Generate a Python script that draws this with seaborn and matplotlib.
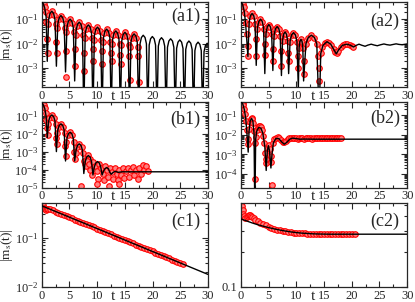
import matplotlib
matplotlib.use("Agg")
from matplotlib import pyplot as plt
from matplotlib.ticker import MultipleLocator, LogLocator, NullFormatter, FormatStrFormatter
import seaborn as sns

# ---- data: t values and |m_s(t)| values ----

# (a1) black curve (theory) and red circles (numerics)
a1_line_t = [0, 0.3, 0.55, 0.8, 1.0,
             1.25, 1.5, 1.82, 2.15, 2.4, 2.65,
             2.9, 3.15, 3.47, 3.8, 4.05, 4.3,
             4.55, 4.8, 5.12, 5.45, 5.7, 5.95,
             6.2, 6.45, 6.77, 7.1, 7.35, 7.6,
             7.85, 8.1, 8.42, 8.75, 9.0, 9.25,
             9.5, 9.75, 10.07, 10.4, 10.65, 10.9,
             11.15, 11.4, 11.72, 12.05, 12.3, 12.55,
             12.8, 13.05, 13.37, 13.7, 13.95, 14.2,
             14.45, 14.7, 15.02, 15.35, 15.6, 15.85,
             16.1, 16.35, 16.67, 17.0, 17.25, 17.5,
             17.75, 18.0, 18.32, 18.65, 18.9, 19.15,
             19.4, 19.65, 19.97, 20.3, 20.55, 20.8,
             21.05, 21.3, 21.62, 21.95, 22.2, 22.45,
             22.7, 22.95, 23.27, 23.6, 23.85, 24.1,
             24.35, 24.6, 24.92, 25.25, 25.5, 25.75,
             26.0, 26.25, 26.57, 26.9, 27.15, 27.4,
             27.65, 27.9, 28.22, 28.55, 28.8, 29.05,
             29.3, 29.55, 29.87, 30.2]
a1_line_m = [0.5, 0.42, 0.28, 0.12, 1.9e-3,
             0.095, 0.17, 0.21, 0.17, 0.095, 1.2e-3,
             0.063, 0.113, 0.14, 0.113, 0.063, 7e-4,
             0.045, 0.081, 0.10, 0.081, 0.045, 3e-4,
             0.034, 0.061, 0.075, 0.061, 0.034, 1e-5,
             0.026, 0.047, 0.058, 0.047, 0.026, 1e-5,
             0.021, 0.038, 0.047, 0.038, 0.021, 1e-5,
             0.0175, 0.0316, 0.039, 0.0316, 0.0175, 1e-5,
             0.0149, 0.0267, 0.033, 0.0267, 0.0149, 1e-5,
             0.013, 0.0235, 0.029, 0.0235, 0.013, 1e-5,
             0.0113, 0.0203, 0.025, 0.0203, 0.0113, 1e-5,
             0.0099, 0.0178, 0.022, 0.0178, 0.0099, 1e-5,
             0.0088, 0.0158, 0.0195, 0.0158, 0.0088, 1e-5,
             0.0079, 0.0142, 0.0175, 0.0142, 0.0079, 1e-5,
             0.0071, 0.0128, 0.0158, 0.0128, 0.0071, 1e-5,
             0.0064, 0.0115, 0.0142, 0.0115, 0.0064, 1e-5,
             0.0058, 0.0104, 0.0128, 0.0104, 0.0058, 1e-5,
             0.0052, 0.0093, 0.0115, 0.0093, 0.0052, 1e-5,
             0.0047, 0.0084, 0.0104, 0.0084]
a1_red_t = [0, 0.12, 0.25, 0.4, 0.55, 0.7, 0.85, 1.0, 1.05,
            1.15, 1.4, 1.82, 2.25, 2.5, 2.6, 2.7,
            2.8, 3.05, 3.47, 3.9, 4.15, 4.3, 4.35,
            4.45, 4.7, 5.12, 5.55, 5.8, 5.95, 6.0,
            6.1, 6.35, 6.77, 7.2, 7.45, 7.6, 7.65,
            7.75, 8.0, 8.42, 8.85, 9.1, 9.25, 9.3,
            9.4, 9.65, 10.07, 10.5, 10.75, 10.9, 10.95,
            11.05, 11.3, 11.72, 12.15, 12.4, 12.55, 12.6,
            12.7, 12.95, 13.37, 13.8, 14.05, 14.2, 14.25,
            14.35, 14.6, 15.02, 15.45, 15.7, 15.8, 15.85,
            16.0, 16.25, 16.67, 17.1, 17.35, 17.45, 17.5]
a1_red_m = [0.5, 0.49, 0.46, 0.4, 0.3, 0.19, 0.08, 0.015, 4e-3,
            0.063, 0.15, 0.21, 0.15, 0.063, 0.012, 4e-3,
            0.042, 0.098, 0.14, 0.098, 0.042, 5e-3, 4.4e-4,
            0.03, 0.07, 0.10, 0.07, 0.03, 6e-3, 1.2e-3,
            0.0225, 0.0525, 0.075, 0.0525, 0.0225, 4e-3, 7.5e-4,
            0.0174, 0.0406, 0.058, 0.0406, 0.0174, 6e-3, 2e-3,
            0.0141, 0.0329, 0.047, 0.0329, 0.0141, 5e-3, 1.5e-3,
            0.0117, 0.0273, 0.039, 0.0273, 0.0117, 4e-3, 2e-3,
            0.0099, 0.0231, 0.033, 0.0231, 0.0099, 3.5e-3, 1.5e-3,
            0.0087, 0.0203, 0.029, 0.0203, 0.0087, 3e-3, 3.3e-4,
            0.0075, 0.0175, 0.025, 0.0175, 0.0075, 3e-3, 2.6e-4]

# (a2)
a2_line_t = [0, 0.3, 0.6, 0.85, 1.25,
             1.475, 1.7, 2.0, 2.3, 2.525, 2.75,
             2.98, 3.22, 3.52, 3.83, 4.07, 4.3,
             4.52, 4.74, 5.02, 5.31, 5.53, 5.75,
             5.98, 6.22, 6.52, 6.83, 7.07, 7.3,
             7.5, 7.69, 7.95, 8.21, 8.4, 8.6,
             8.86, 9.13, 9.47, 9.82, 10.09, 10.35,
             10.49, 10.63, 10.82, 11.02, 11.16, 11.3,
             11.72, 12.14, 12.7, 13.26, 13.68, 14.1,
             14.4, 14.8, 15.5, 16.2, 16.8, 17.2, 17.6, 18.3, 19.1, 19.8,
             20.3, 20.8, 21.3, 21.8, 22.4, 22.9, 23.5, 24.0, 24.6, 25.2,
             25.8, 26.3, 26.9, 27.4, 28.0, 28.5, 29.1, 29.6, 30.0]
a2_line_m = [0.5, 0.4, 0.2, 0.06, 3e-3,
             0.0765, 0.138, 0.17, 0.138, 0.0765, 1.3e-3,
             0.045, 0.081, 0.10, 0.081, 0.045, 6e-4,
             0.027, 0.0486, 0.06, 0.0486, 0.027, 8e-4,
             0.0225, 0.0405, 0.05, 0.0405, 0.0225, 5e-4,
             0.0135, 0.0243, 0.03, 0.0243, 0.0135, 6e-4,
             0.0126, 0.0227, 0.028, 0.0227, 0.0126, 1.5e-4,
             0.0068, 0.0122, 0.015, 0.0122, 0.0068, 3e-4,
             0.0099, 0.0178, 0.022, 0.0178, 0.0099, 1e-5,
             0.004, 0.0085, 0.012, 0.0095, 0.0055, 0.0038, 0.0055, 0.0085, 0.0095, 0.0085,
             0.0073, 0.0085, 0.0095, 0.0086, 0.0078, 0.0087, 0.0095, 0.0088, 0.0082, 0.009,
             0.0097, 0.0091, 0.0087, 0.0092, 0.0098, 0.0093, 0.009, 0.0094, 0.0097]
a2_red_t = [0, 0.15, 0.35, 0.55, 0.75, 0.95, 1.1, 1.2, 1.3,
            1.45, 1.7, 2.0, 2.3, 2.55, 2.7, 2.75,
            2.95, 3.2, 3.52, 3.85, 4.1, 4.25, 4.3,
            4.5, 4.75, 5.02, 5.3, 5.55, 5.7, 5.75,
            5.95, 6.2, 6.52, 6.85, 7.1, 7.25, 7.3,
            7.5, 7.7, 7.95, 8.2, 8.4, 8.55, 8.6,
            8.85, 9.13, 9.47, 9.82, 10.1, 10.3, 10.35,
            10.5, 10.63, 10.82, 11.02, 11.16, 11.3, 11.35,
            11.7, 12.1, 12.7, 13.25, 13.65, 13.9, 14.0, 14.1,
            14.4, 14.7, 15.1, 15.5, 15.9, 16.3, 16.7, 17.0, 17.3, 17.6,
            18.0, 18.4, 18.8, 19.2, 19.6, 20.0, 20.3]
a2_red_m = [0.5, 0.48, 0.42, 0.3, 0.17, 0.07, 0.025, 8e-3, 3e-3,
            0.065, 0.135, 0.17, 0.135, 0.065, 0.015, 3e-3,
            0.04, 0.08, 0.10, 0.08, 0.04, 0.01, 3.5e-3,
            0.025, 0.048, 0.06, 0.048, 0.025, 6e-3, 2e-3,
            0.02, 0.04, 0.05, 0.04, 0.02, 5e-3, 1.2e-3,
            0.013, 0.024, 0.03, 0.024, 0.013, 4e-3, 2e-3,
            0.012, 0.022, 0.028, 0.022, 0.012, 3e-3, 1e-3,
            0.0068, 0.012, 0.015, 0.012, 0.0068, 2e-3, 6e-4,
            0.0099, 0.0175, 0.022, 0.0175, 0.0099, 3e-3, 1e-3, 3e-4,
            0.004, 0.0075, 0.0105, 0.012, 0.011, 0.009, 0.006, 0.0045, 0.004, 0.0052,
            0.007, 0.0085, 0.0093, 0.0095, 0.009, 0.0082, 0.0075]

# (b1)
b1_line_t = [0, 0.3, 0.55, 0.8, 1.0,
             1.25, 1.5, 1.82, 2.15, 2.4, 2.65,
             2.9, 3.15, 3.47, 3.8, 4.05, 4.3,
             4.55, 4.8, 5.12, 5.45, 5.7, 5.95,
             6.2, 6.45, 6.77, 7.1, 7.35, 7.6,
             7.85, 8.1, 8.42, 8.75, 9.0, 9.25,
             9.5, 9.75, 10.07, 10.4, 10.65, 10.9,
             11.15, 11.4, 11.72, 12.05, 12.3, 12.55,
             12.9, 13.3, 13.8, 14.5, 16, 20, 25, 30]
b1_line_m = [0.5, 0.4, 0.25, 0.09, 6e-3,
             0.05, 0.089, 0.11, 0.089, 0.05, 1e-3,
             0.0158, 0.0284, 0.035, 0.0284, 0.0158, 3e-4,
             0.0054, 0.0097, 0.012, 0.0097, 0.0054, 3e-4,
             0.0012, 0.0022, 0.0027, 0.0022, 0.0012, 6e-5,
             2.7e-4, 4.9e-4, 6e-4, 4.9e-4, 2.7e-4, 5e-5,
             1.4e-4, 2.3e-4, 2.8e-4, 2.3e-4, 1.4e-4, 5e-5,
             8e-5, 1.1e-4, 1.3e-4, 1.1e-4, 7e-5, 5.5e-5,
             7e-5, 8e-5, 7e-5, 7.5e-5, 7.5e-5, 7.5e-5, 7.5e-5, 7.5e-5]
b1_red_t = [0, 0.12, 0.25, 0.4, 0.55, 0.7, 0.85, 1.0, 1.05,
            1.15, 1.4, 1.82, 2.25, 2.5, 2.6, 2.7,
            2.8, 3.05, 3.47, 3.9, 4.15, 4.25, 4.35,
            4.45, 4.7, 5.12, 5.55, 5.8, 5.9, 6.0,
            6.1, 6.35, 6.77, 7.2, 7.45, 7.6, 7.1,
            7.8, 8.1, 8.42, 8.8,
            8.0, 8.2, 8.5, 8.8, 9.0, 9.3, 9.6, 9.9, 10.1, 10.4,
            10.7, 11.0, 11.2, 11.5, 11.8, 12.0, 12.3, 12.6, 12.9, 13.2,
            13.5, 13.8, 14.0, 14.3, 14.6, 14.9, 15.2, 15.5, 15.8, 16.1,
            16.4, 16.7, 17.0, 17.3, 17.6, 17.9, 18.2, 18.5, 18.8, 19.1,
            10.0, 12.1, 13.9]
b1_red_m = [0.5, 0.48, 0.44, 0.37, 0.26, 0.15, 0.06, 0.02, 8e-3,
            0.033, 0.077, 0.11, 0.077, 0.033, 6e-3, 2.5e-3,
            0.0105, 0.0245, 0.035, 0.0245, 0.0105, 2e-3, 6e-4,
            0.0036, 0.0084, 0.012, 0.0084, 0.0036, 1e-3, 4e-4,
            8e-4, 0.0019, 0.0027, 0.0019, 8e-4, 3e-4, 1.2e-5,
            2e-4, 4.5e-4, 6.5e-4, 4e-4,
            1.5e-4, 3e-4, 2e-4, 1e-4, 5e-5, 2.5e-4, 1.5e-4, 8e-5, 3e-5, 2e-4,
            1.2e-4, 6e-5, 2.5e-5, 1.5e-4, 9e-5, 4e-5, 1.3e-4, 7e-5, 3e-5, 1.2e-4,
            6e-5, 2.5e-5, 1e-4, 5e-5, 1.3e-4, 3.5e-5, 8e-5, 1.2e-4, 4e-5, 9e-5,
            1.4e-4, 5e-5, 1e-4, 3e-5, 1.3e-4, 6e-5, 1.8e-4, 1e-4, 1.5e-4, 8e-5,
            1.5e-5, 1.2e-5, 1.6e-5]

# (b2)
b2_line_t = [0, 0.3, 0.6, 0.85, 1.05, 1.3, 1.45, 1.65, 1.9, 2.15, 2.35, 2.5,
             2.65, 2.85, 3.2, 3.6, 3.95, 4.3, 4.55, 4.75, 4.95, 5.15, 5.4, 5.6,
             5.85, 6.3, 6.8, 7.3, 7.8, 8.3, 8.8, 9.3, 9.9, 10.6, 11.5, 13, 15,
             20, 25, 30]
b2_line_m = [0.5, 0.4, 0.2, 0.07, 0.015, 1.3e-3, 0.015, 0.05, 0.07, 0.05, 0.012, 1e-6,
             0.006, 0.016, 0.024, 0.022, 0.012, 2.5e-3, 1.5e-4, 1.5e-3, 2.8e-3, 1.5e-3, 2e-4, 1e-3,
             4e-3, 6.5e-3, 6.5e-3, 4.5e-3, 3.3e-3, 4.2e-3, 6e-3, 6.8e-3, 6.5e-3, 6e-3, 6.1e-3, 6e-3, 6e-3,
             6e-3, 6e-3, 6e-3]
b2_red_t = [0, 0.12, 0.3, 0.45, 0.6, 0.75, 0.9, 1.05, 1.2, 1.35, 1.45, 1.6,
            1.75, 1.9, 2.05, 2.2, 2.35, 2.5, 2.6, 2.7, 2.85, 3.0, 3.2, 3.4,
            3.6, 3.8, 4.0, 4.2, 4.35, 4.5, 4.6, 4.8, 5.0, 5.2, 5.35, 5.5,
            5.6, 5.8, 6.0, 6.3, 6.6, 6.9, 7.2, 7.5, 7.8, 8.1, 8.4, 8.7,
            9.0, 9.3, 9.6, 9.9, 10.2, 10.5, 10.8, 11.1, 11.4, 11.7, 12.0, 12.3,
            12.6, 12.9, 13.2, 13.5, 13.8, 14.1, 14.4, 14.7, 15.0, 15.3, 15.6, 15.9,
            16.2, 16.5, 16.8, 17.1, 17.4, 17.7, 18.0]
b2_red_m = [0.5, 0.48, 0.42, 0.33, 0.22, 0.12, 0.05, 0.018, 6e-3, 3.5e-3, 0.02, 0.045,
            0.065, 0.075, 0.065, 0.04, 0.015, 4e-3, 5.5e-5, 8e-3, 0.018, 0.025, 0.028, 0.027,
            0.024, 0.017, 9e-3, 4e-3, 1.2e-3, 3.5e-4, 6e-4, 2.2e-3, 3e-3, 1.8e-3, 8e-4, 4e-4,
            2.6e-5, 4e-3, 6e-3, 7e-3, 7.5e-3, 7e-3, 5.5e-3, 4.5e-3, 4.2e-3, 5e-3, 6e-3, 6.8e-3,
            7.2e-3, 7e-3, 6.8e-3, 6.6e-3, 6.5e-3, 6.6e-3, 6.8e-3, 6.7e-3, 6.5e-3, 6.6e-3, 6.8e-3, 6.9e-3,
            6.7e-3, 6.5e-3, 6.6e-3, 6.8e-3, 6.9e-3, 6.7e-3, 6.6e-3, 6.7e-3, 6.9e-3, 6.8e-3, 6.6e-3, 6.7e-3,
            6.9e-3, 6.8e-3, 6.6e-3, 6.7e-3, 6.8e-3, 6.7e-3, 6.6e-3]

# (c1)
c1_line_t = [0, 10, 20, 30]
c1_line_m = [0.44, 0.152, 0.0523, 0.018]
c1_red_t = [0, 0.2, 0.4, 0.6, 0.8, 1.0, 1.2,
            1.5, 2.0, 2.5, 3.0, 3.5, 4.0, 4.5, 5.0, 5.5, 6.0, 6.5, 7.0, 7.5, 8.0,
            8.5, 9.0, 9.5, 10.0, 10.5, 11.0, 11.5, 12.0, 12.5, 13.0, 13.5, 14.0,
            14.5, 15.0, 15.5, 16.0, 16.5, 17.0, 17.5, 18.0, 18.5, 19.0, 19.5, 20.0,
            20.5, 21.0, 21.5, 22.0, 22.5, 23.0, 23.5, 24.0, 24.5, 25.0, 25.5]
c1_red_m = [0.5, 0.46, 0.40, 0.37, 0.36, 0.37, 0.38,
            0.375, 0.356, 0.337, 0.320, 0.303, 0.287, 0.272, 0.258, 0.245, 0.232, 0.220, 0.209, 0.198, 0.188,
            0.178, 0.169, 0.160, 0.152, 0.144, 0.136, 0.129, 0.123, 0.116, 0.110, 0.105, 0.0992,
            0.0941, 0.0892, 0.0846, 0.0802, 0.0760, 0.0721, 0.0683, 0.0648, 0.0614, 0.0582, 0.0552, 0.0523,
            0.0496, 0.0470, 0.0446, 0.0423, 0.0401, 0.0380, 0.0360, 0.0342, 0.0324, 0.0307, 0.0291]

# (c2)
c2_line_t = [0, 1, 2, 3, 4, 5, 6, 7, 8, 9, 10, 11, 12, 13, 14, 16, 18, 20, 25, 30]
c2_line_m = [0.38, 0.366, 0.352, 0.34, 0.33, 0.321, 0.313, 0.306, 0.3, 0.295, 0.291,
             0.288, 0.286, 0.284, 0.283, 0.282, 0.282, 0.282, 0.282, 0.282]
c2_red_t = [0, 0.15, 0.3, 0.45, 0.6, 0.8, 1.0, 1.2, 1.4, 1.6, 1.8, 2.0, 2.3, 2.6,
            3.0, 3.5, 4.0, 4.5, 5.0, 5.5, 6.0, 6.5, 7.0, 7.5, 8.0, 8.5, 9.0, 9.5,
            10.0, 10.5, 11.0, 11.5, 12.0, 12.5, 13.0, 13.5, 14.0, 14.5, 15.0, 15.5,
            16.0, 16.5, 17.0, 17.5, 18.0, 18.5, 19.0, 19.5, 20.0, 20.5]
c2_red_m = [0.515, 0.49, 0.455, 0.42, 0.40, 0.39, 0.393, 0.40, 0.41, 0.41, 0.405, 0.395, 0.385, 0.375,
            0.365, 0.353, 0.343, 0.335, 0.327, 0.32, 0.314, 0.309, 0.305, 0.301, 0.298, 0.295, 0.293, 0.291,
            0.289, 0.288, 0.287, 0.286, 0.285, 0.284, 0.284, 0.283, 0.283, 0.283, 0.283, 0.283,
            0.283, 0.283, 0.283, 0.283, 0.283, 0.283, 0.284, 0.284, 0.284, 0.284]

panel_labels = ["(a1)", "(a2)", "(b1)", "(b2)", "(c1)", "(c2)"]
x_ticks = [0, 5, 10, 15, 20, 25, 30]


def draw_panel(ax, line_t, line_m, red_t, red_m, ylim, label, label_y=0.8):
    # red circles first, black curve on top of them
    sns.scatterplot(x=red_t, y=red_m, ax=ax, marker="o", s=16, color="#ff7f7f",
                    edgecolor="red", linewidth=0.8, zorder=2)
    sns.lineplot(x=line_t, y=line_m, ax=ax, color="black", linewidth=1.0,
                 estimator=None, sort=False, zorder=3)

    ax.set_yscale("log")
    ax.set_xlim(0, 30)
    ax.set_ylim(*ylim)
    ax.set_xticks(x_ticks)
    ax.xaxis.set_minor_locator(MultipleLocator(2.5))
    ax.yaxis.set_major_locator(LogLocator(base=10, numticks=20))
    ax.yaxis.set_minor_locator(LogLocator(base=10, subs=range(2, 10), numticks=20))
    ax.yaxis.set_minor_formatter(NullFormatter())
    ax.tick_params(which="both", direction="in", top=True, right=True, width=0.8)
    ax.tick_params(which="major", length=4.5, labelsize=9, pad=2)
    ax.tick_params(axis="y", which="major", pad=2.5)
    ax.tick_params(which="minor", length=2.2)
    for s in ax.spines.values():
        s.set_linewidth(0.9)

    ax.set_xlabel("t", fontsize=11)
    ax.xaxis.set_label_coords(0.43, -0.03)
    ax.set_ylabel("")
    ax.text(0.865, label_y, label, transform=ax.transAxes, ha="center", va="center",
            fontsize=13)


sns.set_style("ticks")
plt.rcParams["font.family"] = ["Liberation Serif", "DejaVu Serif"]
plt.rcParams["mathtext.fontset"] = "stix"

fig = plt.figure(figsize=(4.15, 3.02), dpi=100)

left_x, right_x, col_w = 0.1005, 0.5807, 0.4005
rows = [(0.7119, 0.2815), (0.3791, 0.2841), (0.0497, 0.2780)]

ax_a1 = fig.add_axes([left_x, rows[0][0], col_w, rows[0][1]])
ax_a2 = fig.add_axes([right_x, rows[0][0], col_w, rows[0][1]])
ax_b1 = fig.add_axes([left_x, rows[1][0], col_w, rows[1][1]])
ax_b2 = fig.add_axes([right_x, rows[1][0], col_w, rows[1][1]])
ax_c1 = fig.add_axes([left_x, rows[2][0], col_w, rows[2][1]])
ax_c2 = fig.add_axes([right_x, rows[2][0], col_w, rows[2][1]])

draw_panel(ax_a1, a1_line_t, a1_line_m, a1_red_t, a1_red_m, (1.7e-4, 0.5), panel_labels[0], 0.83)
draw_panel(ax_a2, a2_line_t, a2_line_m, a2_red_t, a2_red_m, (1.7e-4, 0.5), panel_labels[1], 0.77)
draw_panel(ax_b1, b1_line_t, b1_line_m, b1_red_t, b1_red_m, (1e-5, 0.6), panel_labels[2], 0.79)
draw_panel(ax_b2, b2_line_t, b2_line_m, b2_red_t, b2_red_m, (2e-5, 0.5), panel_labels[3], 0.81)
draw_panel(ax_c1, c1_line_t, c1_line_m, c1_red_t, c1_red_m, (0.01, 0.5), panel_labels[4], 0.78)
draw_panel(ax_c2, c2_line_t, c2_line_m, c2_red_t, c2_red_m, (0.1, 0.52), panel_labels[5], 0.78)

# (c2) only has the 0.1 label on a short log axis
ax_c2.yaxis.set_major_formatter(FormatStrFormatter("%g"))

# y label only on the left column, centred about 7 px from the left edge
for ax in (ax_a1, ax_b1, ax_c1):
    ax.set_ylabel(r"|m$_{\rm s}$(t)|", fontsize=9.5)
    ax.yaxis.label.set_verticalalignment("center")
    ax.yaxis.set_label_coords(-0.21, 0.5)

fig.savefig("out.png", dpi=100)
plt.close(fig)
